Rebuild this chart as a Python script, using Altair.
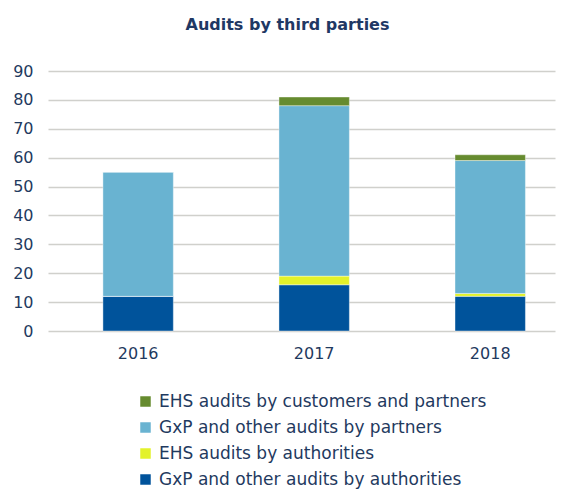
import altair as alt
import pandas as pd

years = ["2016", "2017", "2018"]
series = [
    "GxP and other audits by authorities",
    "EHS audits by authorities",
    "GxP and other audits by partners",
    "EHS audits by customers and partners",
]
gxp_authorities = [12, 16, 12]
ehs_authorities = [0, 3, 1]
gxp_partners = [43, 59, 46]
ehs_customers = [0, 3, 2]
colors = ["#00539b", "#e3f22a", "#69b3d1", "#668b2f"]
y_ticks = [0, 10, 20, 30, 40, 50, 60, 70, 80, 90]

values = [gxp_authorities, ehs_authorities, gxp_partners, ehs_customers]
rows = []
for si, (name, vals) in enumerate(zip(series, values)):
    for y, v in zip(years, vals):
        rows.append({"year": y, "series": name, "value": v, "order": si})
df = pd.DataFrame(rows)

legend_order = series[::-1]
legend_colors = colors[::-1]

font = "DejaVu Sans"
text_color = "#1f3a60"

chart = (
    alt.Chart(df)
    .mark_bar(stroke="#ffffff", strokeOpacity=0.4, strokeWidth=1)
    .encode(
        x=alt.X(
            "year:N",
            sort=years,
            title=None,
            scale=alt.Scale(paddingInner=0.6, paddingOuter=0.24, align=0.65),
            axis=alt.Axis(
                labelAngle=0,
                labelFontSize=16,
                labelColor=text_color,
                labelFont=font,
                labelPadding=14,
                ticks=False,
                domain=False,
                grid=False,
            ),
        ),
        y=alt.Y(
            "value:Q",
            stack="zero",
            title=None,
            scale=alt.Scale(domain=[0, 90], nice=False),
            axis=alt.Axis(
                values=y_ticks,
                labelFontSize=16,
                labelColor=text_color,
                labelFont=font,
                labelPadding=15,
                ticks=False,
                domain=False,
                gridColor="#d0d0cc",
                gridWidth=1.5,
            ),
        ),
        color=alt.Color(
            "series:N",
            scale=alt.Scale(domain=legend_order, range=legend_colors),
            legend=alt.Legend(
                title=None,
                orient="none",
                legendX=89,
                legendY=322,
                symbolType="square",
                symbolSize=110,
                symbolStrokeWidth=0,
                labelFontSize=17,
                labelFont=font,
                labelColor=text_color,
                labelLimit=500,
                rowPadding=8,
                labelOffset=5,
            ),
        ),
        order=alt.Order("order:Q", sort="ascending"),
    )
    .properties(
        width=507,
        height=260,
        padding={"left": 40, "top": 63, "right": 5, "bottom": 158},
        autosize=alt.AutoSizeParams(type="none"),
        title=alt.TitleParams(
            "Audits by third parties",
            font=font,
            fontSize=16,
            fontWeight="bold",
            color="#1f3864",
            anchor="middle",
            offset=30,
            dx=-14,
        ),
    )
    .configure_view(stroke=None)
)

chart.save("out.html", embed_options={"renderer": "svg", "actions": False})
